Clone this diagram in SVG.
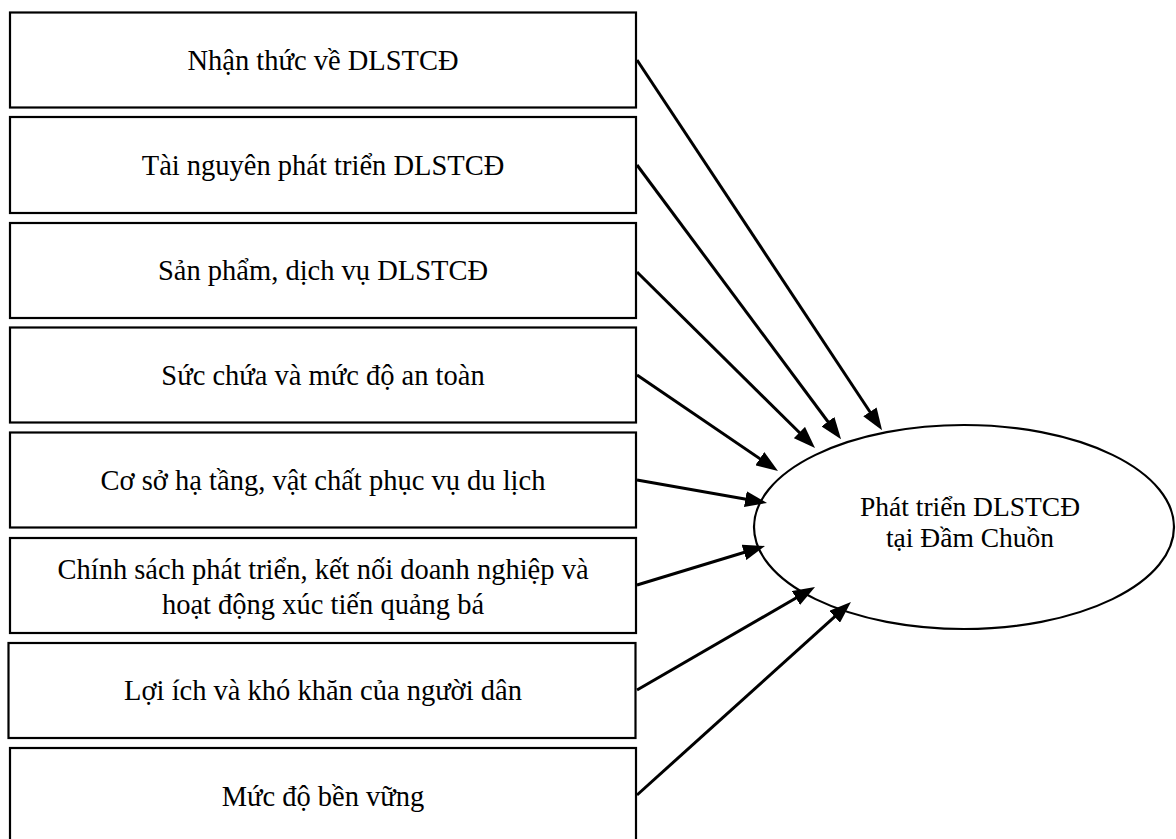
<svg xmlns="http://www.w3.org/2000/svg" width="1176" height="839" viewBox="0 0 1176 839">
  <style>
    .box { fill: #ffffff; stroke: #000000; stroke-width: 2.2; }
    .lbl { font-family: "Liberation Serif", "Times New Roman", serif; font-size: 28.5px; fill: #000000; text-anchor: middle; }
    .elbl { font-family: "Liberation Serif", "Times New Roman", serif; font-size: 27.5px; fill: #000000; text-anchor: middle; }
    .conn { stroke: #000000; stroke-width: 3; fill: none; marker-end: url(#arrow); }
  </style>
  <defs>
    <marker id="arrow" markerUnits="userSpaceOnUse" markerWidth="22" markerHeight="16" refX="11" refY="8" orient="auto">
      <path d="M0,0 L22,8 L0,16 Z" fill="#000000"/>
    </marker>
  </defs>
  <rect width="1176" height="839" fill="#ffffff"/>

  <g id="node-1">
    <rect class="box" x="10" y="12.5" width="626" height="95"/>
    <text class="lbl" x="323" y="70">Nhận thức về DLSTCĐ</text>
  </g>
  <g id="node-2">
    <rect class="box" x="10" y="117" width="626" height="96"/>
    <text class="lbl" x="323" y="175">Tài nguyên phát triển DLSTCĐ</text>
  </g>
  <g id="node-3">
    <rect class="box" x="10" y="223" width="626" height="95"/>
    <text class="lbl" x="323" y="280">Sản phẩm, dịch vụ DLSTCĐ</text>
  </g>
  <g id="node-4">
    <rect class="box" x="10" y="327.5" width="626" height="95"/>
    <text class="lbl" x="323" y="385">Sức chứa và mức độ an toàn</text>
  </g>
  <g id="node-5">
    <rect class="box" x="10" y="432.5" width="626" height="95"/>
    <text class="lbl" x="323" y="490">Cơ sở hạ tầng, vật chất phục vụ du lịch</text>
  </g>
  <g id="node-6">
    <rect class="box" x="10" y="538" width="626" height="95"/>
    <text class="lbl" x="323" y="579">Chính sách phát triển, kết nối doanh nghiệp và</text>
    <text class="lbl" x="323" y="614">hoạt động xúc tiến quảng bá</text>
  </g>
  <g id="node-7">
    <rect class="box" x="8.5" y="643" width="627" height="95"/>
    <text class="lbl" x="323" y="700">Lợi ích và khó khăn của người dân</text>
  </g>
  <g id="node-8">
    <rect class="box" x="10" y="748" width="626" height="96"/>
    <text class="lbl" x="323" y="806">Mức độ bền vững</text>
  </g>
  <g id="node-target">
    <ellipse class="box" cx="964" cy="527" rx="210" ry="102"/>
    <text class="elbl" x="970" y="516">Phát triển DLSTCĐ</text>
    <text class="elbl" x="970" y="547">tại Đầm Chuồn</text>
  </g>

  <g id="connectors">
    <path class="conn" d="M637,60 L876,421"/>
    <path class="conn" d="M637,165 L834.5,430.5"/>
    <path class="conn" d="M637,272 L807.2,440.3"/>
    <path class="conn" d="M637,375 L768.9,464.8"/>
    <path class="conn" d="M637,480 L756.2,501"/>
    <path class="conn" d="M637,585 L754.5,549.2"/>
    <path class="conn" d="M637,690 L805.5,592.5"/>
    <path class="conn" d="M637,795 L842.8,609.4"/>
  </g>
</svg>
